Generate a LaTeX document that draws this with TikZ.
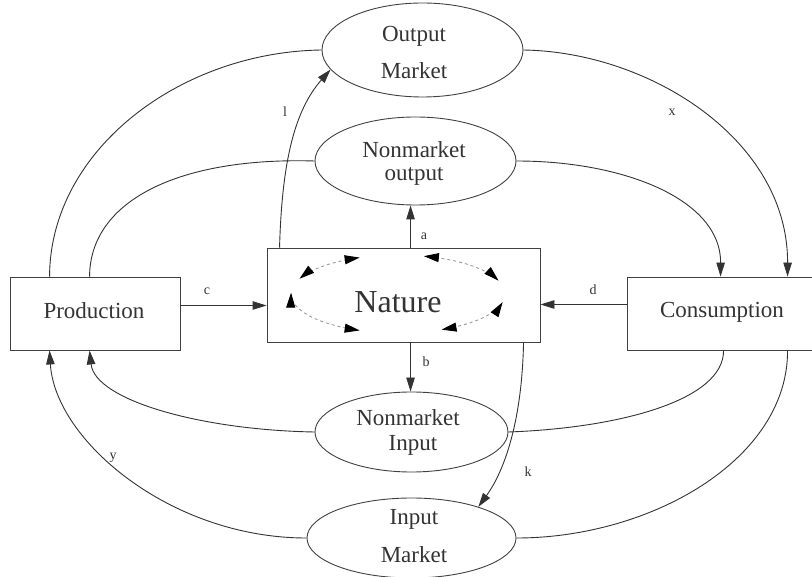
\documentclass[tikz,border=0pt]{standalone}
\usepackage{fontspec}
\setmainfont{Liberation Serif}
\usetikzlibrary{arrows.meta,shapes.geometric,calc}
\begin{document}
\begin{tikzpicture}[x=1pt,y=-1pt,
  ln/.style={draw=black!80, line width=0.9pt},
  arr/.style={ln, -{Triangle[length=14pt,width=8.5pt]}},
  boxn/.style={draw=black!75, line width=0.9pt, rectangle, inner sep=0pt},
  ovaln/.style={draw=black!75, line width=0.9pt, ellipse, inner sep=0pt},
  txt/.style={font=\fontsize{23}{26}\selectfont, text=black!80, inner sep=0pt, anchor=base},
  lab/.style={font=\fontsize{14}{16}\selectfont, text=black!80, inner sep=0pt},
  natarc/.style={draw=black!40, line width=0.9pt, dash pattern=on 3pt off 3pt,
    {Triangle[length=15pt,width=9pt,color=black]}-{Triangle[length=15pt,width=9pt,color=black]}}]
\useasboundingbox (0,0) rectangle (812,577);
\clip (0,0) rectangle (812,577);

% boxes
\node[boxn, minimum width=170pt, minimum height=73pt] (prod) at (95,313.5) {};
\node[txt] (prodt) at (94,319) {Production};
\node[boxn, minimum width=273pt, minimum height=94pt] (nat) at (403.5,295) {};
\node[txt, font=\fontsize{32}{36}\selectfont] (natt) at (398,313) {Nature};
\node[boxn, minimum width=195pt, minimum height=73pt] (cons) at (724.5,313.5) {};
\node[txt] (const) at (722,318) {Consumption};

% ellipses
\node[ovaln, minimum width=201pt, minimum height=94pt] (om) at (422.5,50) {};
\node[txt] (omt1) at (414,42) {Output};
\node[txt] (omt2) at (414,79) {Market};
\node[ovaln, minimum width=201pt, minimum height=88pt] (nmo) at (415.5,161) {};
\node[txt] (nmot1) at (414,158) {Nonmarket};
\node[txt] (nmot2) at (414,181) {output};
\node[ovaln, minimum width=193pt, minimum height=80pt] (nmi) at (411.5,432) {};
\node[txt] (nmit1) at (408,426) {Nonmarket};
\node[txt] (nmit2) at (413,450) {Input};
\node[ovaln, minimum width=209pt, minimum height=80pt] (im) at (411.5,538) {};
\node[txt] (imt1) at (414,524) {Input};
\node[txt] (imt2) at (414,562) {Market};

% attachment points
\coordinate (p1) at ($(prod.north west)+(40,0)$);
\coordinate (p2) at ($(prod.north west)+(80,0)$);
\coordinate (p3) at ($(prod.south west)+(40,0)$);
\coordinate (p4) at ($(prod.south west)+(80,0)$);
\coordinate (c1) at ($(cons.north west)+(94,0)$);
\coordinate (c2) at ($(cons.north west)+(161,0)$);
\coordinate (c3) at ($(cons.south west)+(97,0)$);
\coordinate (c4) at ($(cons.south west)+(161,0)$);
\coordinate (nl) at ($(nat.north west)+(13,0)$);
\coordinate (nk) at ($(nat.south west)+(257,0)$);
\coordinate (na) at ($(nat.north west)+(144,0)$);
\coordinate (nb) at ($(nat.south west)+(144,0)$);
\coordinate (pc) at ($(prod.east)+(0,-8)$);
\coordinate (cd) at ($(cons.west)+(0,-9)$);

% connectors
\draw[ln] (p1) .. controls (50,150) and (180,52) .. (om.west);
\draw[ln] (p2) .. controls (90,200) and (180,157) .. (nmo.west);
\draw[arr] (om.east) .. controls (650,52) and (788,140) .. (c2);
\draw[arr] (nmo.east) .. controls (625,161) and (721,200) .. (c1);
\draw[arr] (nl) .. controls (282,160) and (295,110) .. (om.192);
\draw[arr] (nk) .. controls (522,420) and (505,470) .. (im.25);
\draw[ln] (c3) .. controls (724,400) and (620,428) .. (nmi.east);
\draw[ln] (c4) .. controls (788,460) and (650,538) .. (im.east);
\draw[arr] (nmi.west) .. controls (200,430) and (95,400) .. (p4);
\draw[arr] (im.west) .. controls (170,538) and (55,440) .. (p3);
\draw[arr] (na) -- (na |- nmo.south);
\draw[arr] (nb) -- (nb |- nmi.north);
\draw[arr] (pc) -- (pc -| nat.west);
\draw[arr] (cd) -- (cd -| nat.east);

% labels
\node[lab] (lx) at (672,112) {x};
\node[lab] (ll) at (285,112) {l};
\node[lab] (la) at (424,236) {a};
\node[lab] (lb) at (426,362) {b};
\node[lab] (lc) at (207,291) {c};
\node[lab] (ld) at (593,290) {d};
\node[lab] (ly) at (113,458) {y};
\node[lab] (lk) at (528,472) {k};

% cycles inside Nature
\draw[natarc] plot[domain=157:111, samples=25] ({398+107*cos(\x)},{294-39*sin(\x)});
\draw[natarc] plot[domain=178:249, samples=25] ({398+107*cos(\x)},{294-39*sin(\x)});
\draw[natarc] plot[domain=76:20, samples=25] ({398+107*cos(\x)},{294-39*sin(\x)});
\draw[natarc] plot[domain=-12:-66, samples=25] ({398+107*cos(\x)},{294-39*sin(\x)});
\end{tikzpicture}
\end{document}
